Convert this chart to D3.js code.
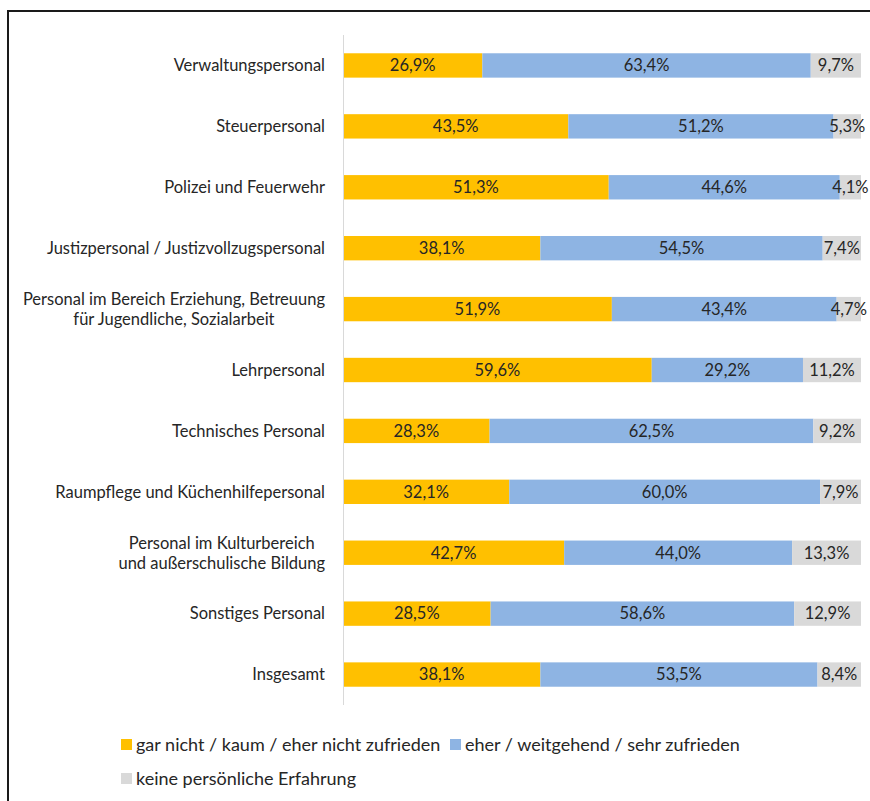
<!DOCTYPE html>
<html><head><meta charset="utf-8">
<script src="https://cdn.jsdelivr.net/npm/d3@7"></script>
<style>body{margin:0;background:#fff}svg{display:block}text{font-family:Lato,"Open Sans",sans-serif}</style>
</head><body>
<svg id="c" width="870" height="801"></svg>
<script>
const categories = [
  ["Verwaltungspersonal"],
  ["Steuerpersonal"],
  ["Polizei und Feuerwehr"],
  ["Justizpersonal / Justizvollzugspersonal"],
  ["Personal im Bereich Erziehung, Betreuung", "für Jugendliche, Sozialarbeit"],
  ["Lehrpersonal"],
  ["Technisches Personal"],
  ["Raumpflege und Küchenhilfepersonal"],
  ["Personal im Kulturbereich", "und außerschulische Bildung"],
  ["Sonstiges Personal"],
  ["Insgesamt"]
];
const unzufrieden = [26.9, 43.5, 51.3, 38.1, 51.9, 59.6, 28.3, 32.1, 42.7, 28.5, 38.1];
const zufrieden   = [63.4, 51.2, 44.6, 54.5, 43.4, 29.2, 62.5, 60.0, 44.0, 58.6, 53.5];
const keine       = [9.7, 5.3, 4.1, 7.4, 4.7, 11.2, 9.2, 7.9, 13.3, 12.9, 8.4];
const seriesNames = ["gar nicht / kaum / eher nicht zufrieden", "eher / weitgehend / sehr zufrieden", "keine persönliche Erfahrung"];
const colors = ["#FFC000", "#8EB4E3", "#D9D9D9"];

const svg = d3.select("#c");
// frame
svg.append("rect").attr("x", 8).attr("y", 11).attr("width", 900).attr("height", 900)
  .attr("fill", "none").attr("stroke", "#1a1a1a").attr("stroke-width", 2);

const x = d3.scaleLinear().domain([0, 100]).range([343, 861]);
const idx = categories.map((d, i) => i);
const y = d3.scaleBand().domain(idx).range([35, 705]).paddingInner(0.6).paddingOuter(0.3);

const series = [unzufrieden, zufrieden, keine];
const rows = idx.map(i => {
  let acc = 0;
  return series.map((s, k) => { const r = {i, k, v: s[i], x0: acc, x1: acc + s[i]}; acc += s[i]; return r; });
});

const g = svg.append("g");
rows.forEach(r => {
  r.forEach(seg => {
    g.append("rect").attr("x", x(seg.x0)).attr("width", x(seg.x1) - x(seg.x0))
      .attr("y", y(seg.i)).attr("height", y.bandwidth()).attr("fill", colors[seg.k]);
  });
});
rows.forEach(r => {
  r.forEach(seg => {
    g.append("text").attr("x", (x(seg.x0) + x(seg.x1)) / 2).attr("y", y(seg.i) + y.bandwidth() / 2)
      .attr("dy", "0.35em").attr("text-anchor", "middle").attr("font-size", 16.5).attr("fill", "#262626")
      .text(seg.v.toFixed(1).replace(".", ",") + "%");
  });
});

// axis line
svg.append("line").attr("x1", 343.5).attr("x2", 343.5).attr("y1", 35).attr("y2", 705)
  .attr("stroke", "#d9d9d9").attr("stroke-width", 1);

// category labels
categories.forEach((lines, i) => {
  const cy = y(i) + y.bandwidth() / 2;
  const t = svg.append("text").attr("font-size", 16.5).attr("fill", "#262626");
  const n = lines.length;
  const spans = lines.map((l, j) => t.append("tspan").text(l).attr("y", cy + (j - (n - 1) / 2) * 20).attr("dy", "0.35em"));
  if (n === 1) {
    t.attr("text-anchor", "end"); spans[0].attr("x", 325);
  } else {
    const w = d3.max(spans, s => s.node().getComputedTextLength());
    t.attr("text-anchor", "middle"); spans.forEach(s => s.attr("x", 325 - w / 2));
  }
});

// legend
const leg = [[0, 121, 745], [1, 450, 745], [2, 121, 779]];
leg.forEach(([k, lx, ly]) => {
  svg.append("rect").attr("x", lx).attr("y", ly - 6).attr("width", 11).attr("height", 11).attr("fill", colors[k]);
  svg.append("text").attr("x", lx + 15).attr("y", ly).attr("dy", "0.35em").attr("font-size", 18)
    .attr("fill", "#262626").text(seriesNames[k]);
});
</script>
</body></html>
